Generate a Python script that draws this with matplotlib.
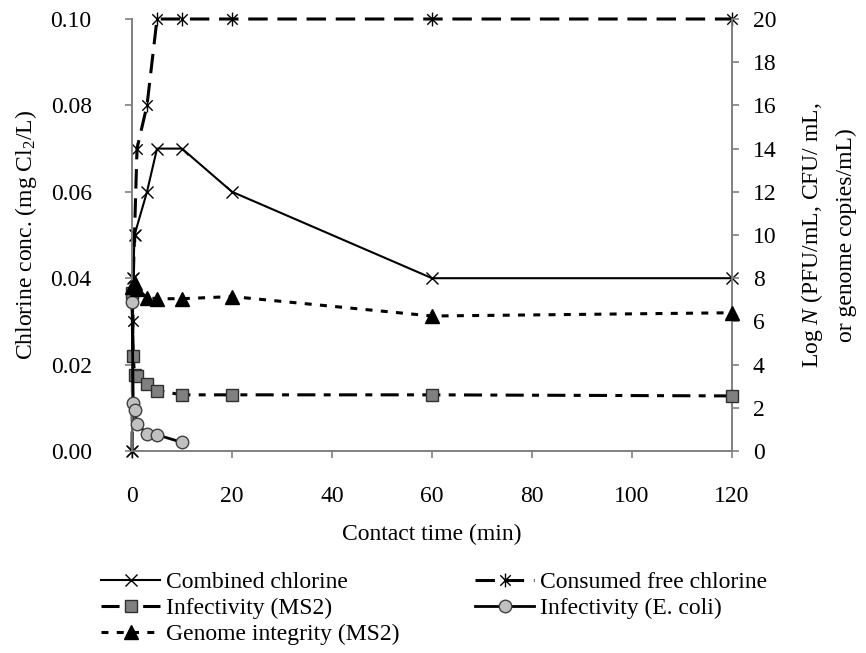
import matplotlib
matplotlib.use("Agg")
import numpy as np
from matplotlib import pyplot as plt
from matplotlib.path import Path

plt.rcParams["font.family"] = ["Liberation Serif", "DejaVu Serif"]
plt.rcParams["mathtext.fontset"] = "custom"
plt.rcParams["mathtext.rm"] = "Liberation Serif"
plt.rcParams["mathtext.it"] = "Liberation Serif:italic"
plt.rcParams["lines.scale_dashes"] = False

# chlorine (left axis, mg Cl2/L)
combined_t = [0, 0.25, 0.5, 3, 5, 10, 20, 60, 120]
combined_c = [0.0, 0.04, 0.05, 0.06, 0.07, 0.07, 0.06, 0.04, 0.04]
consumed_t = [0, 0.17, 0.25, 0.5, 1, 3, 5, 10, 20, 60, 120]
consumed_c = [0.0, 0.03, 0.04, 0.05, 0.07, 0.08, 0.10, 0.10, 0.10, 0.10, 0.10]

# log N (right axis)
ms2_t = [0, 0.25, 0.5, 1, 3, 5, 10, 20, 60, 120]
ms2_inf = [7.3, 4.4, 3.5, 3.45, 3.1, 2.8, 2.6, 2.6, 2.6, 2.55]
ecoli_t = [0, 0.25, 0.5, 1, 3, 5, 10]
ecoli_inf = [6.9, 2.2, 1.9, 1.25, 0.8, 0.75, 0.4]
genome_t = [0, 0.5, 1, 3, 5, 10, 20, 60, 120]
genome_int = [7.6, 7.8, 7.5, 7.1, 7.05, 7.05, 7.15, 6.25, 6.4]

x_ticks = [0, 20, 40, 60, 80, 100, 120]
left_ticks = [0.0, 0.02, 0.04, 0.06, 0.08, 0.10]
right_ticks = list(range(0, 21, 2))

FS = 17

# Excel-style star: vertical bar plus an x
star = Path(
    [(0, -1), (0, 1), (-0.75, -0.75), (0.75, 0.75), (-0.75, 0.75), (0.75, -0.75)],
    [Path.MOVETO, Path.LINETO, Path.MOVETO, Path.LINETO, Path.MOVETO, Path.LINETO],
)

fig = plt.figure(figsize=(8.66, 6.53), dpi=100)
ax = fig.add_axes([132 / 866, 1 - 451 / 653, 600 / 866, 432 / 653])
ax2 = ax.twinx()

spine_color = "#808080"
for a in (ax, ax2):
    for side in ("left", "right", "bottom"):
        a.spines[side].set_color(spine_color)
        a.spines[side].set_linewidth(1.2)
    a.spines["top"].set_visible(False)

h_comb, = ax.plot(combined_t, combined_c, color="black", lw=1.5, marker="x",
                  ms=9, mew=1.0, label="Combined chlorine", clip_on=False, zorder=3)
h_cons, = ax.plot(consumed_t, consumed_c, color="black", lw=2.2, marker=star,
                  ms=10, mew=1.0, dashes=(14, 7), label="Consumed free chlorine",
                  clip_on=False, zorder=3)

h_ms2, = ax2.plot(ms2_t, ms2_inf, color="black", lw=2.2, marker="s", ms=9,
                  mfc="#808080", mec="#303030", mew=1.0, dashes=(13, 6, 5, 6),
                  label="Infectivity (MS2)", clip_on=False, zorder=3)
h_eco, = ax2.plot(ecoli_t, ecoli_inf, color="black", lw=2.0, marker="o", ms=9,
                  mfc="#c0c0c0", mec="#404040", mew=1.0,
                  label="Infectivity (E. coli)", clip_on=False, zorder=3)
h_gen, = ax2.plot(genome_t, genome_int, color="black", lw=2.2, marker="^", ms=10,
                  mfc="black", mec="black", dashes=(5, 6),
                  label="Genome integrity (MS2)", clip_on=False, zorder=3)

ax.set_xlim(0, 120)
ax.set_ylim(0, 0.10)
ax2.set_ylim(0, 20)
ax.set_xticks(x_ticks)
ax.set_yticks(left_ticks)
ax.set_yticklabels([f"{v:.2f}" for v in left_ticks])
ax2.set_yticks(right_ticks)

ax.tick_params(axis="both", direction="out", length=5, width=1.2,
               color=spine_color, labelsize=FS)
ax.tick_params(axis="y", pad=24)
ax.tick_params(axis="x", pad=20)
ax2.tick_params(axis="y", direction="out", length=5, width=1.2,
                color=spine_color, labelsize=FS, pad=10)

ax.set_xlabel("Contact time (min)", fontsize=FS, labelpad=12)
ax.set_ylabel("Chlorine conc. (mg Cl$_2$/L)", fontsize=FS, labelpad=8)
ax2.set_ylabel("Log $N$ (PFU/mL, CFU/ mL,\nor genome copies/mL)", fontsize=FS,
               rotation=90, labelpad=16, linespacing=1.7)

handles = [h_comb, h_ms2, h_gen, h_cons, h_eco]
fig.legend(handles=handles, labels=[h.get_label() for h in handles],
           loc="upper left", bbox_to_anchor=(92 / 866, 1 - 562 / 653),
           ncol=2, frameon=False, fontsize=FS, numpoints=1, handlelength=2.5,
           handletextpad=0.25, columnspacing=3.2, labelspacing=0.2,
           borderaxespad=0)

fig.savefig("out.png", dpi=100)
